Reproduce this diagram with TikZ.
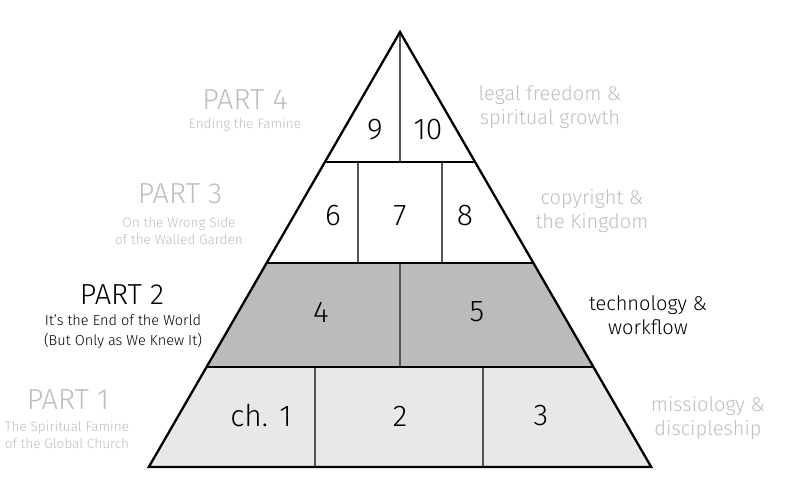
\documentclass[tikz,border=0pt]{standalone}
\usepackage{fontspec}
\setmainfont{Fira Sans}[UprightFont=* Light]
\usepackage{tikz}
\usepackage{xcolor}
\usetikzlibrary{positioning}
\definecolor{pmfaint}{HTML}{BEBEBE}
\definecolor{pmmid}{HTML}{BBBBBB}
\definecolor{pmlight}{HTML}{E8E8E8}
\definecolor{pmrule}{HTML}{555555}
\tikzset{
  cellNum/.style={font=\fontsize{30}{30}\selectfont, text=black, inner sep=0pt},
  partTitle/.style={font=\fontsize{29}{29}\selectfont, inner sep=0pt},
  partSub/.style={font=\fontsize{13.6}{17.5}\selectfont, align=center, inner sep=0pt},
  themeText/.style={font=\fontsize{20}{23.5}\selectfont, align=center, inner sep=0pt},
  outerLine/.style={line width=2.3pt, draw=black, line join=miter},
  innerLine/.style={line width=1.2pt, draw=pmrule}
}

\begin{document}
\begin{tikzpicture}[x=1pt,y=-1pt]
  \useasboundingbox (0,0) rectangle (800,486);
  % bands
  \fill[pmmid] (266.6,263) -- (533.4,263) -- (593.4,367) -- (206.6,367) -- cycle;
  \fill[pmlight] (206.6,367) -- (593.4,367) -- (651.2,467) -- (148.8,467) -- cycle;
  % dividers
  \draw[innerLine] (400,32) -- (400,162);
  \draw[innerLine] (358,162) -- (358,263);
  \draw[innerLine] (442,162) -- (442,263);
  \draw[innerLine] (400,263) -- (400,367);
  \draw[innerLine] (315,367) -- (315,467);
  \draw[innerLine] (483,367) -- (483,467);
  % outline
  \draw[outerLine] (324.9,162) -- (475.1,162);
  \draw[outerLine] (266.6,263) -- (533.4,263);
  \draw[outerLine] (206.6,367) -- (593.4,367);
  \draw[outerLine] (400,32) -- (651.2,467) -- (148.8,467) -- cycle;
  % chapters
  \node[cellNum] (c9) at (375,130) {9};
  \node[cellNum] (c10) at (428,130) {10};
  \node[cellNum] (c6) at (333,216) {6};
  \node[cellNum] (c7) at (400,216) {7};
  \node[cellNum] (c8) at (465,216) {8};
  \node[cellNum] (c4) at (321,312) {4};
  \node[cellNum] (c5) at (477,312) {5};
  \node[cellNum] (c1) at (261,416) {ch. 1};
  \node[cellNum] (c2) at (400,416) {2};
  \node[cellNum] (c3) at (541,416) {3};
  % parts
  \node[partTitle, text=pmfaint] (p4) at (245,100) {PART 4};
  \node[partSub, text=pmfaint] (p4s) at (245,125) {Ending the Famine};
  \node[partTitle, text=pmfaint] (p3) at (180,194) {PART 3};
  \node[partSub, text=pmfaint] (p3s) at (179,231) {On the Wrong Side\\of the Walled Garden};
  \node[partTitle, text=black] (p2) at (122,295) {PART 2};
  \node[partSub, text=black, font=\fontsize{14.5}{20}\selectfont] (p2s) at (123,332) {It's the End of the World\\(But Only as We Knew It)};
  \node[partTitle, text=pmfaint] (p1) at (68,400) {PART 1};
  \node[partSub, text=pmfaint] (p1s) at (67,435) {The Spiritual Famine\\of the Global Church};
  % themes
  \node[themeText, text=pmfaint] (t4) at (550,107) {legal freedom \&\\spiritual growth};
  \node[themeText, text=pmfaint] (t3) at (592,211) {copyright \&\\the Kingdom};
  \node[themeText, text=black] (t2) at (648,315) {technology \&\\workflow};
  \node[themeText, text=pmfaint] (t1) at (708,418) {missiology \&\\discipleship};
\end{tikzpicture}
\end{document}
